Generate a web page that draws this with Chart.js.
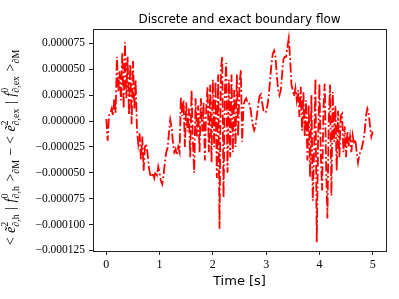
<!DOCTYPE html>
<html>
<head>
<meta charset="utf-8">
<script src="https://cdn.jsdelivr.net/npm/chart.js@4"></script>
<style>
  body { margin: 0; background: #fff; }
  #flow-chart { display: block; }
</style>
</head>
<body>
<canvas id="flow-chart" width="399" height="299"></canvas>
<script>
// sampled every 0.025 s, values in units of 1e-6
const timeStep = 0.025;
const flowDiff = [
  2, -19, 5, 8, 12, 5, 22, 8, 62, 28, 48, 20, 66, 12, 76, 22, 62, 6, 55, -3,
  58, 12, 40, -8, -22, -12, -38, -15, -48, -25, -22, -32, -45, -52, -54, -50, -55, -49, -52, -44,
  -50, -58, -61, -52, -40, -30, -26, -12, 1, -6, -20, -30, -27, -33, -25, -30, 23, 5, 20, -25,
  18, -10, 12, -35, 30, -20, -50, 22, -15, 15, -30, 22, -10, 18, -38, 12, 33, -30, 35, -40,
  40, -25, 38, -55, 45, -104, 50, 62, -74, 30, 56, -50, 40, -35, 45, -30, 30, -25, 45, -15,
  35, 49, -20, 15, 20, 22, 18, 18, 14, 5, -4, -9, -5, 5, 15, 24, 26, 18, 10, 8,
  9, 15, 25, 40, 55, 65, 68, 62, 45, 30, 25, 30, 45, 60, 62, 62, 72, 80, 60, 35,
  30, 24, 32, 20, 30, 4, 33, -9, 28, -15, 20, -38, 15, -54, 25, -77, -30, 41, -117, -20,
  36, -30, -67, 10, 36, -40, -94, 0, 35, -72, 28, -20, 15, -48, 10, -35, 5, 7, -30, -5,
  -35, -10, -25, -15, -30, -14, -22, -18, -30, -40, -32, -30, -25, -19, -10, 5, 12, 8, -5, -15,
  -10
];
const xTicks = [0, 1, 2, 3, 4, 5];
const yTicks = [0.000075, 0.00005, 0.000025, 0, -0.000025, -0.00005, -0.000075, -0.0001, -0.000125];

const points = flowDiff.map((v, i) => ({ x: i * timeStep, y: v * 1e-6 }));

// frame, title and axis labels drawn by hand
const decorations = {
  id: 'decorations',
  afterDraw(chart) {
    const ctx = chart.ctx;
    const a = chart.chartArea;
    ctx.save();
    ctx.strokeStyle = '#222';
    ctx.lineWidth = 1;
    ctx.strokeRect(Math.round(a.left) + 0.5, Math.round(a.top) + 0.5, Math.round(a.right - a.left), Math.round(a.bottom - a.top));

    const cx = (a.left + a.right) / 2;
    ctx.fillStyle = '#000';
    ctx.textAlign = 'center';
    ctx.textBaseline = 'alphabetic';
    ctx.font = '12px "DejaVu Sans"';
    ctx.fillText('Discrete and exact boundary flow', cx, 23);
    ctx.font = '13px "DejaVu Sans"';
    ctx.fillText('Time [s]', cx, 285);

    // y label, rotated, with sub/superscripts
    const main = 'italic 14px "Liberation Serif"';
    const up = '14px "Liberation Serif"';
    const smallUp = '10px "Liberation Serif"';
    const parts = [
      { t: '< ', f: up },
      { t: 'ẽ', f: main, sup: '2', sub: '∂,h' },
      { t: ' | ', f: up },
      { t: 'f', f: main, sup: '0', sub: '∂,h' },
      { t: ' >', f: up, sub: '∂M' },
      { t: ' − < ', f: up },
      { t: 'ẽ', f: main, sup: '2', sub: '∂,ex' },
      { t: ' | ', f: up },
      { t: 'f', f: main, sup: '0', sub: '∂,ex' },
      { t: ' >', f: up, sub: '∂M' }
    ];
    const widths = parts.map(p => {
      ctx.font = p.f;
      const w = ctx.measureText(p.t).width;
      ctx.font = smallUp;
      const ws = Math.max(p.sup ? ctx.measureText(p.sup).width : 0, p.sub ? ctx.measureText(p.sub).width : 0);
      return w + ws + 1;
    });
    const total = widths.reduce((s, w) => s + w, 0);
    ctx.translate(15, 147);
    ctx.rotate(-Math.PI / 2);
    ctx.textAlign = 'left';
    let x = -total / 2;
    parts.forEach((p, i) => {
      ctx.font = p.f;
      ctx.fillText(p.t, x, 0);
      const w = ctx.measureText(p.t).width;
      ctx.font = smallUp;
      if (p.sup) ctx.fillText(p.sup, x + w, -7);
      if (p.sub) ctx.fillText(p.sub, x + w, 4);
      x += widths[i];
    });
    ctx.restore();
  }
};

new Chart(document.getElementById('flow-chart'), {
  type: 'line',
  data: {
    datasets: [{
      data: points,
      borderColor: '#ff0000',
      borderWidth: 1.8,
      borderDash: [10, 2.6, 1.8, 2.6],
      pointRadius: 0,
      tension: 0,
      fill: false
    }]
  },
  options: {
    responsive: false,
    animation: false,
    devicePixelRatio: 1,
    layout: { padding: { top: 29, right: 13, left: 0, bottom: 0 } },
    plugins: { legend: { display: false }, tooltip: { enabled: false } },
    scales: {
      x: {
        type: 'linear',
        min: -0.25,
        max: 5.25,
        afterFit(scale) { scale.height = 48; },
        afterBuildTicks(scale) { scale.ticks = xTicks.map(v => ({ value: v })); },
        grid: { drawOnChartArea: false, tickLength: 4, color: '#222' },
        border: { display: false },
        ticks: {
          color: '#000',
          padding: 3,
          maxRotation: 0,
          font: { family: 'Liberation Serif', size: 12 },
          callback: v => String(v)
        }
      },
      y: {
        min: -0.0001255,
        max: 0.0000889,
        afterFit(scale) { scale.width = 93; },
        afterBuildTicks(scale) { scale.ticks = yTicks.map(v => ({ value: v })); },
        grid: { drawOnChartArea: false, tickLength: 4, color: '#222' },
        border: { display: false },
        ticks: {
          color: '#000',
          padding: 4,
          font: { family: 'Liberation Serif', size: 11.5 },
          callback: v => (v < 0 ? '−' : '') + Math.abs(v).toFixed(6)
        }
      }
    }
  },
  plugins: [decorations]
});
</script>
</body>
</html>
